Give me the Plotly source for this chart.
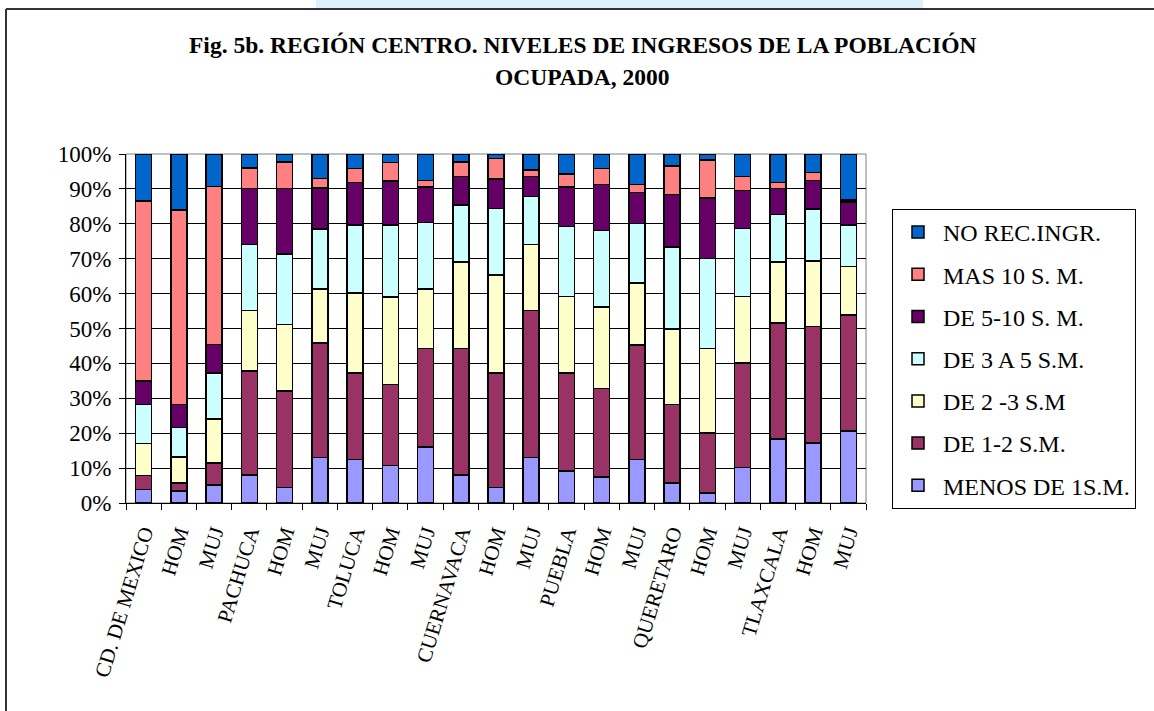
import plotly.graph_objects as go

categories = ["CD. DE MEXICO", "HOM", "MUJ", "PACHUCA", "HOM", "MUJ", "TOLUCA", "HOM", "MUJ",
              "CUERNAVACA", "HOM", "MUJ", "PUEBLA", "HOM", "MUJ", "QUERETARO", "HOM", "MUJ",
              "TLAXCALA", "HOM", "MUJ"]

menos_1 = [3.9, 3.4, 5.1, 8.0, 4.5, 13.1, 12.5, 10.7, 16.0, 8.0, 4.5, 13.1, 9.1, 7.4, 12.5, 5.7, 2.8, 10.2, 18.4, 17.2, 20.6]
de_1_2 = [4.0, 2.3, 6.4, 29.8, 27.6, 32.8, 24.7, 23.2, 28.3, 36.3, 32.8, 42.0, 28.2, 25.4, 32.8, 22.5, 17.3, 29.9, 33.2, 33.4, 33.3]
de_2_3 = [9.2, 7.5, 12.6, 17.3, 19.0, 15.4, 23.0, 25.1, 17.0, 24.7, 28.1, 19.0, 21.9, 23.4, 17.8, 21.7, 24.1, 19.0, 17.4, 18.8, 13.8]
de_3_5 = [11.1, 8.5, 13.2, 19.0, 20.2, 17.2, 19.5, 20.7, 19.1, 16.4, 19.0, 13.7, 20.0, 21.9, 17.0, 23.5, 25.8, 19.5, 13.6, 14.9, 12.0]
de_5_10 = [6.8, 6.5, 8.1, 16.0, 18.8, 11.7, 12.1, 12.6, 10.1, 8.2, 8.5, 5.8, 11.3, 13.1, 8.9, 15.0, 17.4, 11.0, 7.5, 8.1, 6.5]
mas_10 = [51.6, 55.7, 45.3, 5.9, 7.6, 2.8, 4.0, 5.3, 1.9, 4.1, 5.8, 1.8, 3.7, 4.6, 2.2, 8.1, 10.9, 3.9, 1.8, 2.3, 0.6]
no_rec = [13.4, 16.1, 9.3, 4.0, 2.3, 7.0, 4.2, 2.4, 7.6, 2.3, 1.3, 4.6, 5.8, 4.2, 8.8, 3.5, 1.7, 6.5, 8.1, 5.3, 13.2]

series_names = ["MENOS DE 1S.M.", "DE 1-2 S.M.", "DE 2 -3 S.M", "DE 3 A 5 S.M.",
                "DE 5-10 S. M.", "MAS 10 S. M.", "NO REC.INGR."]
series_values = [menos_1, de_1_2, de_2_3, de_3_5, de_5_10, mas_10, no_rec]
series_colors = ["#9999FF", "#993366", "#FFFFCC", "#CCFFFF", "#660066", "#FF8080", "#0066CC"]

y_ticks = [0, 10, 20, 30, 40, 50, 60, 70, 80, 90, 100]

FONT = "Liberation Serif, Times New Roman, serif"

x_pos = list(range(len(categories)))

fig = go.Figure()
n = len(series_names)
for i, (name, vals, col) in enumerate(zip(series_names, series_values, series_colors)):
    fig.add_trace(go.Bar(
        x=x_pos, y=vals, name=name, legendgroup=name, legendrank=n - i,
        marker=dict(color=col, line=dict(color="black", width=1.5)),
        hoverinfo="name+y",
    ))

W, H = 1154, 711
L, R, T, B = 126, 866, 154, 503
pw, ph = R - L, B - T

def px(x):
    return (x - L) / pw

def py(y):
    return (B - y) / ph

fig.update_layout(
    width=W, height=H,
    margin=dict(l=L, r=W - R, t=T, b=H - B, autoexpand=False),
    barmode="stack", barnorm="percent", bargap=0.546,
    paper_bgcolor="white", plot_bgcolor="white",
    font=dict(family=FONT, color="black", size=21),
    showlegend=True,
    legend=dict(
        x=px(892), y=py(209), xanchor="left", yanchor="top",
        traceorder="grouped", tracegroupgap=8, itemwidth=40,
        bordercolor="black", borderwidth=1, bgcolor="white",
        font=dict(family=FONT, size=24, color="black"),
    ),
    xaxis=dict(
        range=[-0.5, len(categories) - 0.5],
        tickmode="array", tickvals=x_pos, ticktext=categories,
        tickangle=-73, ticks="", showgrid=False, zeroline=False,
        showline=True, linecolor="black", linewidth=1,
        ticklabelstandoff=8,
        tickfont=dict(family=FONT, size=21),
        minor=dict(ticks="outside", ticklen=6, tickcolor="black", tickwidth=1,
                   tickmode="array", tickvals=[i - 0.5 for i in range(len(categories) + 1)],
                   showgrid=False),
    ),
    yaxis=dict(
        range=[0, 100], tickmode="array", tickvals=y_ticks,
        ticktext=[f"{v}%" for v in y_ticks],
        ticks="outside", ticklen=6, tickcolor="black",
        ticklabelstandoff=3,
        showgrid=True, gridcolor="black", gridwidth=1,
        showline=True, linecolor="black", linewidth=1, zeroline=False,
        tickfont=dict(family=FONT, size=23),
    ),
    annotations=[
        dict(text="<b>Fig. 5b. REGIÓN CENTRO. NIVELES DE INGRESOS DE LA POBLACIÓN</b>",
             xref="paper", yref="paper", x=px(582), y=py(45), xanchor="center", yanchor="middle",
             showarrow=False, font=dict(family=FONT, size=23.5, color="black")),
        dict(text="<b>OCUPADA, 2000</b>",
             xref="paper", yref="paper", x=px(582), y=py(77), xanchor="center", yanchor="middle",
             showarrow=False, font=dict(family=FONT, size=23.5, color="black")),
    ],
    shapes=[
        dict(type="rect", xref="paper", yref="paper", x0=0, x1=1, y0=0, y1=1,
             line=dict(color="#808080", width=1), layer="below"),
        dict(type="line", xref="paper", yref="paper", x0=px(6), x1=px(1160), y0=py(9), y1=py(9),
             line=dict(color="#333333", width=2)),
        dict(type="line", xref="paper", yref="paper", x0=px(6), x1=px(6), y0=py(9), y1=py(720),
             line=dict(color="#333333", width=2)),
        dict(type="rect", xref="paper", yref="paper", x0=px(316), x1=px(923), y0=py(0), y1=py(8),
             line=dict(width=0), fillcolor="#dcf1fa", layer="below"),
    ],
)

fig.write_html("out.html", config={"displayModeBar": False},
               post_script="document.body.style.margin='0';document.body.style.overflow='hidden';")
